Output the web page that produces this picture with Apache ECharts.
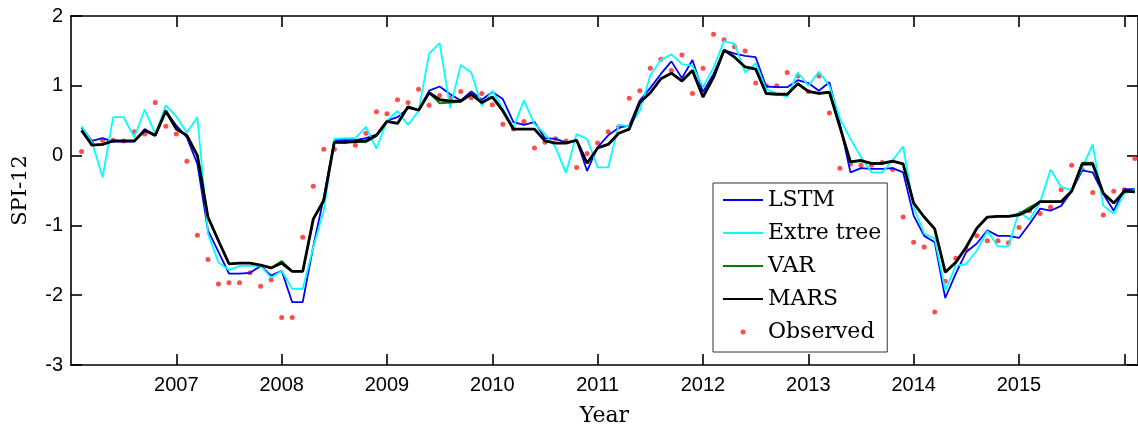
<!DOCTYPE html>
<html>
<head>
<meta charset="utf-8">
<title>SPI-12 forecasts</title>
<script src="https://cdn.jsdelivr.net/npm/echarts@6/dist/echarts.min.js"></script>
<style>
  html, body { margin: 0; padding: 0; background: #fff; }
  #chart { width: 1138px; height: 433px; }
</style>
</head>
<body>
<div id="chart"></div>
<script>
// Sampling: ten samples per year, first sample one step after the start of 2006
const startYear = 2006;
const samplesPerYear = 10;

// Year ticks (all ticks) and the ones that carry a label
const yearTicks = [2007, 2008, 2009, 2010, 2011, 2012, 2013, 2014, 2015, 2016];
const yearLabels = ['2007', '2008', '2009', '2010', '2011', '2012', '2013', '2014', '2015'];
const spiTicks = [-3, -2, -1, 0, 1, 2];

// Observed SPI-12
const observed = [
  0.06, 0.17, 0.22, 0.22, 0.21, 0.34, 0.31, 0.76, 0.42, 0.31,
  -0.08, -1.14, -1.49, -1.84, -1.82, -1.82, -1.68, -1.87, -1.78, -2.32,
  -2.32, -1.17, -0.44, 0.09, 0.09, 0.20, 0.15, 0.32, 0.63, 0.60,
  0.80, 0.76, 0.95, 0.72, 0.86, 0.82, 0.92, 0.83, 0.89, 0.73,
  0.45, 0.38, 0.49, 0.11, 0.19, 0.24, 0.21, -0.17, 0.03, 0.18,
  0.34, 0.41, 0.82, 0.93, 1.25, 1.38, 1.22, 1.44, 0.89, 1.25,
  1.74, 1.66, 1.56, 1.50, 1.04, 1.00, 1.00, 1.19, 1.14, 0.92,
  1.14, 0.61, -0.18, -0.12, -0.14, -0.14, -0.10, -0.20, -0.88, -1.24,
  -1.31, -2.24, -1.80, -1.47, -1.34, -1.15, -1.22, -1.22, -1.25, -1.03,
  -0.79, -0.83, -0.74, -0.49, -0.14, -0.20, -0.53, -0.85, -0.51, -0.49,
  -0.04
];

// LSTM forecast
const lstm = [
  0.40, 0.21, 0.25, 0.20, 0.20, 0.20, 0.38, 0.29, 0.64, 0.43,
  0.26, -0.12, -1.07, -1.38, -1.69, -1.69, -1.68, -1.58, -1.72, -1.65,
  -2.10, -2.10, -1.30, -0.60, 0.22, 0.22, 0.22, 0.25, 0.30, 0.50,
  0.55, 0.68, 0.65, 0.93, 0.99, 0.88, 0.79, 0.92, 0.80, 0.91,
  0.81, 0.48, 0.44, 0.48, 0.25, 0.24, 0.19, 0.22, -0.22, 0.12,
  0.29, 0.40, 0.43, 0.79, 0.97, 1.17, 1.35, 1.11, 1.37, 0.91,
  1.17, 1.51, 1.46, 1.43, 1.41, 0.99, 0.98, 0.98, 1.08, 1.04,
  0.93, 1.05, 0.45, -0.24, -0.18, -0.19, -0.19, -0.18, -0.24, -0.86,
  -1.15, -1.24, -2.04, -1.69, -1.38, -1.26, -1.07, -1.15, -1.15, -1.18,
  -0.98, -0.76, -0.79, -0.72, -0.51, -0.21, -0.24, -0.55, -0.79, -0.48,
  -0.48
];

// Extra tree forecast
const extraTree = [
  0.42, 0.19, -0.31, 0.55, 0.55, 0.26, 0.66, 0.31, 0.72, 0.56,
  0.33, 0.55, -1.12, -1.53, -1.64, -1.58, -1.58, -1.58, -1.75, -1.65,
  -1.91, -1.91, -1.31, -0.79, 0.24, 0.25, 0.25, 0.41, 0.10, 0.50,
  0.64, 0.44, 0.64, 1.46, 1.61, 0.68, 1.30, 1.19, 0.71, 0.93,
  0.67, 0.40, 0.79, 0.45, 0.31, 0.12, -0.25, 0.31, 0.24, -0.17,
  -0.17, 0.44, 0.42, 0.64, 1.15, 1.37, 1.45, 1.31, 1.29, 0.98,
  1.26, 1.64, 1.60, 1.19, 1.32, 0.95, 0.89, 0.84, 1.19, 1.00,
  1.20, 1.00, 0.53, 0.24, -0.02, -0.24, -0.24, -0.07, 0.13, -0.74,
  -1.12, -1.19, -1.93, -1.58, -1.55, -1.36, -1.08, -1.30, -1.30, -0.80,
  -0.92, -0.67, -0.20, -0.45, -0.49, -0.18, 0.16, -0.72, -0.83, -0.54,
  -0.49
];

// VAR forecast
const varModel = [
  0.36, 0.15, 0.16, 0.21, 0.21, 0.21, 0.36, 0.29, 0.64, 0.38,
  0.29, 0.00, -0.88, -1.22, -1.55, -1.54, -1.54, -1.57, -1.61, -1.51,
  -1.66, -1.66, -0.91, -0.64, 0.19, 0.19, 0.20, 0.19, 0.28, 0.49,
  0.46, 0.70, 0.65, 0.90, 0.75, 0.76, 0.77, 0.88, 0.76, 0.84,
  0.64, 0.38, 0.38, 0.38, 0.21, 0.18, 0.18, 0.22, -0.11, 0.11,
  0.16, 0.32, 0.38, 0.76, 0.90, 1.10, 1.18, 1.06, 1.22, 0.84,
  1.12, 1.51, 1.41, 1.27, 1.24, 0.88, 0.87, 0.87, 1.03, 0.92,
  0.89, 0.90, 0.41, -0.09, -0.08, -0.12, -0.12, -0.08, -0.12, -0.68,
  -0.88, -1.05, -1.67, -1.53, -1.31, -1.04, -0.88, -0.87, -0.87, -0.83,
  -0.74, -0.66, -0.66, -0.66, -0.51, -0.10, -0.10, -0.54, -0.68, -0.51,
  -0.52
];

// MARS forecast
const mars = [
  0.36, 0.15, 0.16, 0.21, 0.21, 0.21, 0.36, 0.29, 0.64, 0.38,
  0.29, 0.00, -0.88, -1.22, -1.55, -1.54, -1.54, -1.57, -1.61, -1.54,
  -1.66, -1.66, -0.91, -0.64, 0.19, 0.19, 0.20, 0.21, 0.29, 0.49,
  0.46, 0.70, 0.65, 0.90, 0.80, 0.78, 0.78, 0.88, 0.76, 0.84,
  0.64, 0.38, 0.38, 0.38, 0.21, 0.18, 0.18, 0.22, -0.11, 0.11,
  0.16, 0.32, 0.38, 0.76, 0.90, 1.10, 1.18, 1.07, 1.22, 0.84,
  1.12, 1.51, 1.41, 1.27, 1.24, 0.89, 0.88, 0.88, 1.03, 0.92,
  0.89, 0.91, 0.41, -0.09, -0.07, -0.11, -0.11, -0.08, -0.12, -0.68,
  -0.88, -1.05, -1.67, -1.53, -1.31, -1.04, -0.88, -0.87, -0.87, -0.85,
  -0.78, -0.66, -0.66, -0.66, -0.51, -0.12, -0.12, -0.54, -0.68, -0.51,
  -0.52
];

// Pair every value with its sample time in decimal years
function toPoints(values) {
  return values.map((v, k) => [startYear + (k + 1) / samplesPerYear, v]);
}

const sansFont = '"Liberation Sans", Arial, Helvetica, sans-serif';
const serifFont = '"DejaVu Serif", "Liberation Serif", serif';

const frameLine = { show: true, onZero: false, lineStyle: { color: '#000', width: 1.6 } };
const innerTick = { show: true, inside: true, length: 11, lineStyle: { color: '#000', width: 1.6 } };

const chart = echarts.init(document.getElementById('chart'), null, { renderer: 'canvas' });

function lineSeries(name, values, color, width) {
  return {
    name: name,
    type: 'line',
    data: toPoints(values),
    symbol: 'none',
    showSymbol: false,
    lineStyle: { color: color, width: width },
    itemStyle: { color: color },
    emphasis: { disabled: true },
    animation: false
  };
}

// Legend entries for the model lines show only the line sample
const lineEntry = (name) => ({ name: name, itemStyle: { opacity: 0 } });

chart.setOption({
  animation: false,
  backgroundColor: '#fff',
  grid: { left: 71, right: 0, top: 16, bottom: 68, containLabel: false },
  xAxis: [
    {
      type: 'value',
      min: startYear,
      max: 2016.13,
      name: 'Year',
      nameLocation: 'middle',
      nameGap: 40,
      nameTextStyle: { fontFamily: serifFont, fontSize: 22, color: '#000' },
      axisLine: frameLine,
      axisTick: Object.assign({}, innerTick, { customValues: yearTicks }),
      axisLabel: {
        customValues: yearLabels.map(Number),
        formatter: (v) => String(Math.round(v)),
        fontFamily: sansFont,
        fontSize: 20,
        color: '#000',
        margin: 10
      },
      splitLine: { show: false }
    },
    {
      type: 'value',
      position: 'top',
      min: startYear,
      max: 2016.13,
      axisLine: frameLine,
      axisTick: Object.assign({}, innerTick, { customValues: yearTicks }),
      axisLabel: { show: false },
      splitLine: { show: false }
    }
  ],
  yAxis: [
    {
      type: 'value',
      min: -3,
      max: 2,
      interval: 1,
      name: 'SPI-12',
      nameLocation: 'middle',
      nameGap: 40,
      nameRotate: 90,
      nameTextStyle: { fontFamily: serifFont, fontSize: 21, color: '#000' },
      axisLine: frameLine,
      axisTick: innerTick,
      axisLabel: {
        customValues: spiTicks,
        fontFamily: sansFont,
        fontSize: 20,
        color: '#000',
        margin: 8
      },
      splitLine: { show: false }
    },
    {
      type: 'value',
      position: 'right',
      min: -3,
      max: 2,
      interval: 1,
      axisLine: frameLine,
      axisTick: innerTick,
      axisLabel: { show: false },
      splitLine: { show: false }
    }
  ],
  legend: {
    orient: 'vertical',
    left: 713,
    top: 183,
    padding: [5, 6, 8, 9],
    itemGap: 9,
    itemWidth: 40,
    itemHeight: 5,
    backgroundColor: '#fff',
    borderColor: '#333',
    borderWidth: 1,
    borderRadius: 0,
    selectedMode: false,
    textStyle: { fontFamily: serifFont, fontSize: 22, color: '#000', lineHeight: 24 },
    data: [lineEntry('LSTM'), lineEntry('Extre tree'), lineEntry('VAR'), lineEntry('MARS'), 'Observed']
  },
  series: [
    lineSeries('LSTM', lstm, '#0000ff', 1.8),
    lineSeries('Extre tree', extraTree, '#00ffff', 1.8),
    lineSeries('VAR', varModel, '#008000', 1.8),
    lineSeries('MARS', mars, '#000000', 2.8),
    {
      name: 'Observed',
      type: 'scatter',
      data: toPoints(observed),
      symbol: 'circle',
      symbolSize: 5,
      itemStyle: { color: '#ff1f1f' },
      emphasis: { disabled: true },
      animation: false
    }
  ]
});
</script>
</body>
</html>
